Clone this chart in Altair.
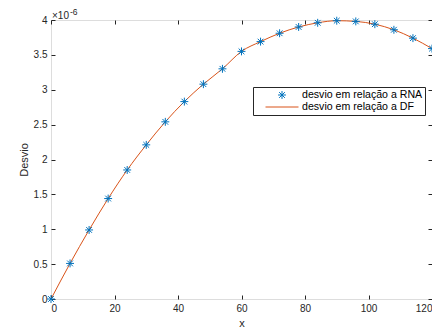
import altair as alt
import pandas as pd

# ---- data (y in units of 1e-6) ----
x_vals = [0, 6, 12, 18, 24, 30, 36, 42, 48, 54, 60, 66, 72, 78, 84, 90, 96, 102, 108, 114, 120]
rna_vals = [0.0, 0.51, 0.99, 1.44, 1.85, 2.21, 2.54, 2.83, 3.08, 3.30, 3.55, 3.69, 3.81, 3.90,
            3.96, 3.99, 3.98, 3.94, 3.86, 3.74, 3.59]
df_vals = [0.0, 0.51, 0.99, 1.44, 1.85, 2.21, 2.54, 2.83, 3.08, 3.30, 3.55, 3.69, 3.81, 3.90,
           3.96, 3.99, 3.98, 3.94, 3.86, 3.74, 3.59]
x_ticks = [0, 20, 40, 60, 80, 100, 120]
y_ticks = [0, 0.5, 1, 1.5, 2, 2.5, 3, 3.5, 4]

RNA_LABEL = "desvio em relação a RNA"
DF_LABEL = "desvio em relação a DF"
series = [RNA_LABEL, DF_LABEL]
colors = ["#0072BD", "#D95319"]

rna_df = pd.DataFrame({"x": x_vals, "y": rna_vals, "serie": RNA_LABEL})
df_df = pd.DataFrame({"x": x_vals, "y": df_vals, "serie": DF_LABEL})

STAR = "M-0.72,0L0.72,0M0,-0.72L0,0.72M-0.52,-0.52L0.52,0.52M-0.52,0.52L0.52,-0.52"
LINE = "M-3,0L3,0"

FONT = "Liberation Sans"
INK = "#262626"

legend = alt.Legend(
    orient="none", legendX=202, legendY=67, title=None,
    strokeColor=INK, fillColor="white", padding=2,
    labelFont=FONT, labelFontSize=10.6, labelColor="black", labelOffset=14,
    symbolSize=121, symbolStrokeWidth=1, symbolFillColor="transparent",
    rowPadding=0, symbolOffset=21,
)
color_enc = alt.Color("serie:N", scale=alt.Scale(domain=series, range=colors), legend=legend)
shape_enc = alt.Shape("serie:N", scale=alt.Scale(domain=series, range=[STAR, LINE]), legend=legend)

xscale = alt.Scale(domain=[0, 120], nice=False)
yscale = alt.Scale(domain=[0, 4], nice=False)


def label_axis(orient, title, values):
    return alt.Axis(orient=orient, title=title, values=values, tickSize=0, domain=False,
                    grid=False, labelFont=FONT, labelFontSize=10, labelColor=INK,
                    labelPadding=4, titleFont=FONT, titleFontSize=11,
                    titleFontWeight="normal", titleColor=INK, format="~f")


def tick_axis(orient, values):
    return alt.Axis(orient=orient, title=None, values=values, labels=False, domain=False,
                    grid=False, tickSize=4, offset=-4, tickColor=INK, tickWidth=1)


line = alt.Chart(df_df).mark_line(strokeWidth=1, interpolate="monotone").encode(
    x=alt.X("x:Q", scale=xscale, axis=label_axis("bottom", "x", x_ticks)),
    y=alt.Y("y:Q", scale=yscale, axis=label_axis("left", "Desvio", y_ticks)),
    color=color_enc,
)

points = alt.Chart(rna_df).mark_point(size=121, filled=False, strokeWidth=1, opacity=1).encode(
    x=alt.X("x:Q", scale=xscale, axis=tick_axis("bottom", x_ticks)),
    y=alt.Y("y:Q", scale=yscale, axis=tick_axis("left", y_ticks)),
    color=color_enc,
    shape=shape_enc,
)

ghost = alt.Chart(rna_df).mark_point(opacity=0).encode(
    x=alt.X("x:Q", scale=xscale, axis=tick_axis("top", x_ticks)),
    y=alt.Y("y:Q", scale=yscale, axis=tick_axis("right", y_ticks)),
)

exp_base = alt.Chart(pd.DataFrame({"t": ["×10"]})).mark_text(
    font=FONT, fontSize=10, color=INK, align="left", baseline="alphabetic"
).encode(text="t:N", x=alt.value(1), y=alt.value(-1))

exp_sup = alt.Chart(pd.DataFrame({"t": ["-6"]})).mark_text(
    font=FONT, fontSize=8.5, color=INK, align="left", baseline="alphabetic"
).encode(text="t:N", x=alt.value(19), y=alt.value(-5))

chart = alt.layer(line, points, ghost, exp_base, exp_sup).resolve_axis(
    x="independent", y="independent"
).properties(
    width=381, height=279,
    autosize=alt.AutoSizeParams(type="none"),
    padding={"left": 43, "top": 12, "right": 0, "bottom": 33},
).configure_view(stroke=INK, strokeWidth=1).configure(background="white")

chart.save("out.html", embed_options={"renderer": "svg", "actions": False})
